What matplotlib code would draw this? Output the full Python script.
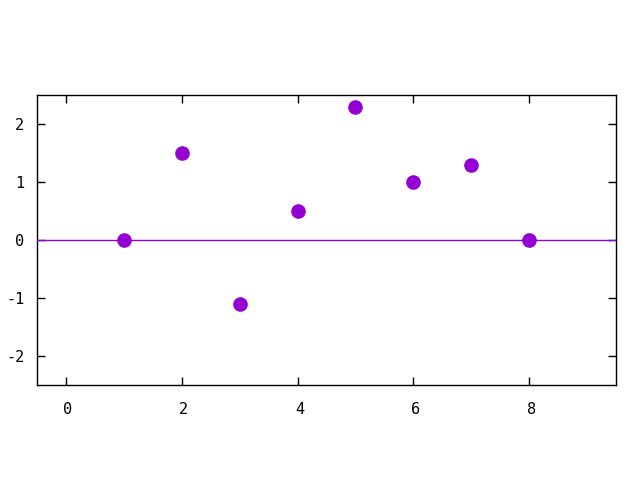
import matplotlib
matplotlib.use("Agg")
import matplotlib.pyplot as plt
import matplotlib.transforms as mtransforms

x_vals = [1, 2, 3, 4, 5, 6, 7, 8]
y_vals = [0, 1.5, -1.1, 0.5, 2.3, 1.0, 1.3, 0]
x_ticks = [0, 2, 4, 6, 8]
y_ticks = [-2, -1, 0, 1, 2]
color = "#9400D3"

plt.rcParams['font.family'] = ['DejaVu Sans Mono']
plt.rcParams['axes.unicode_minus'] = False
fig = plt.figure(figsize=(6.4, 4.8), dpi=100)
ax = fig.add_axes([37/640, 1-385/480, (616-37)/640, (385-95)/480])
ax.axhline(0, color=color, lw=1, zorder=3)
ax.plot(x_vals, y_vals, 'o', color=color, markersize=9.5, zorder=4)
ax.set_xlim(-0.5, 9.5)
ax.set_ylim(-2.5, 2.5)
ax.set_xticks(x_ticks)
ax.set_yticks(y_ticks)
ax.tick_params(direction='in', length=6, width=1, top=True, right=True,
               labelsize=11, pad=12, colors='black')
ax.tick_params(axis='y', pad=9)
offset = mtransforms.ScaledTranslation(2/100, 0, fig.dpi_scale_trans)
for lab in ax.get_xticklabels():
    lab.set_transform(lab.get_transform() + offset)
for s in ax.spines.values():
    s.set_linewidth(1)
fig.savefig("out.png", dpi=100)
